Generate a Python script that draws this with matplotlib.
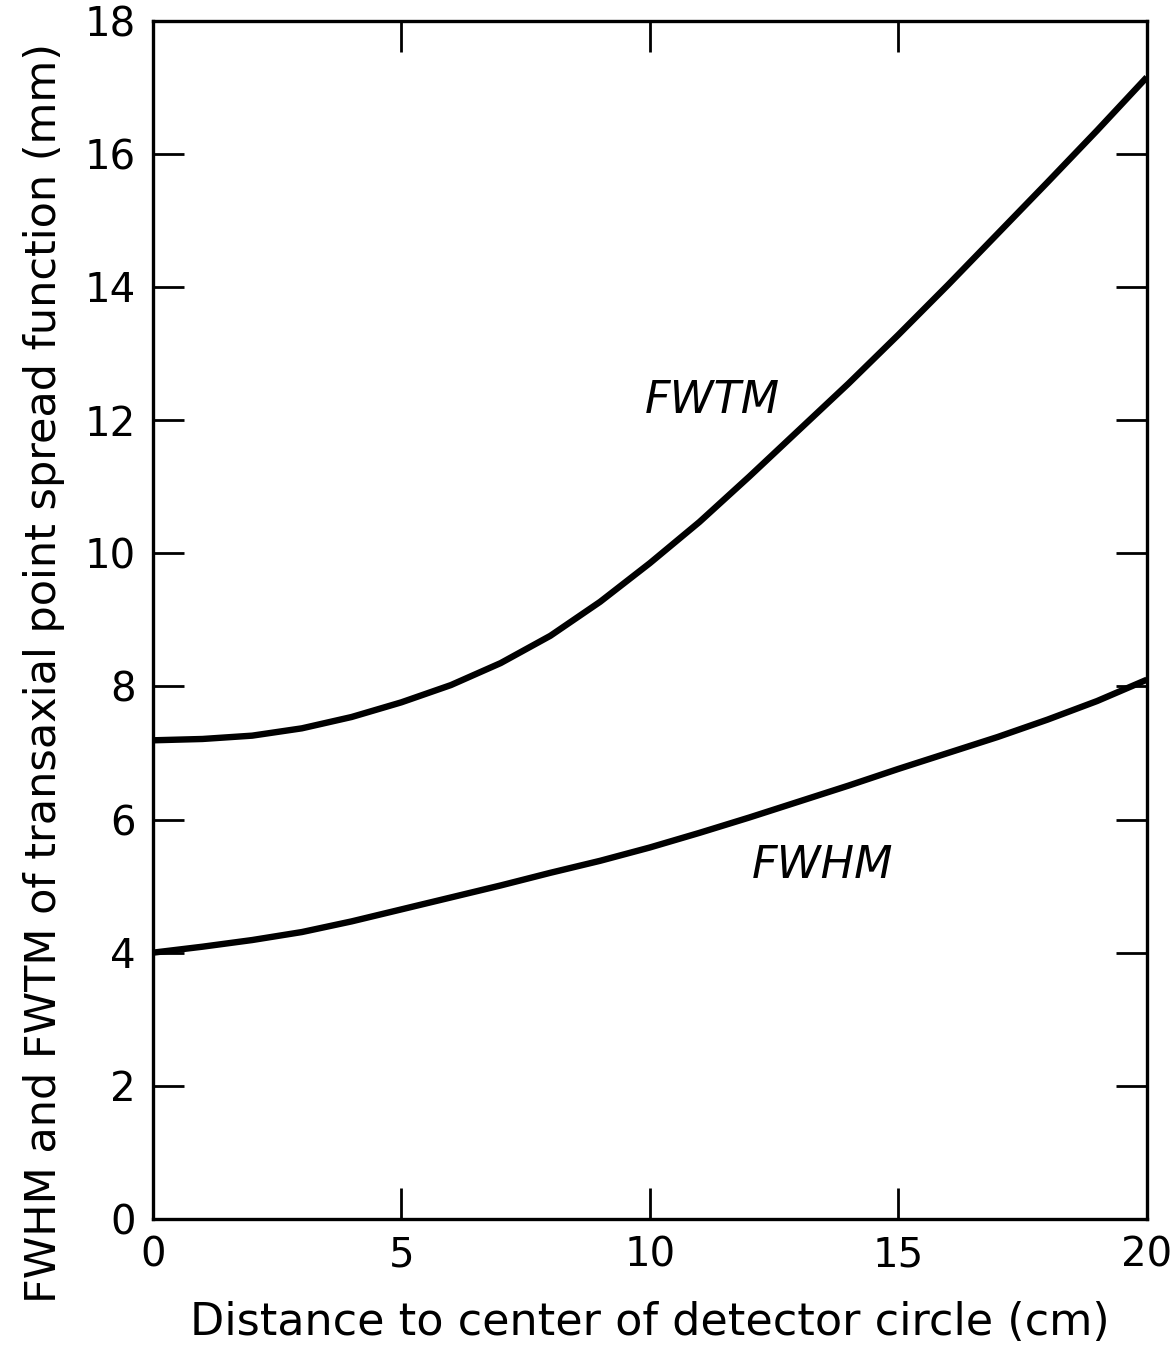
import matplotlib
matplotlib.use("Agg")
import matplotlib.pyplot as plt

# distance to center of detector circle (cm)
dist = [0, 1, 2, 3, 4, 5, 6, 7, 8, 9, 10, 11, 12, 13, 14, 15, 16, 17, 18, 19, 20]
# widths of the transaxial point spread function (mm)
fwtm = [7.19, 7.21, 7.26, 7.37, 7.54, 7.76, 8.02, 8.35, 8.76, 9.27, 9.85, 10.47,
        11.15, 11.85, 12.55, 13.28, 14.03, 14.8, 15.57, 16.35, 17.15]
fwhm = [4.0, 4.09, 4.19, 4.31, 4.47, 4.65, 4.83, 5.01, 5.2, 5.38, 5.58, 5.8,
        6.03, 6.27, 6.51, 6.76, 7.0, 7.24, 7.5, 7.78, 8.1]

plt.rcParams['font.family'] = ['DejaVu Sans']

fig = plt.figure(figsize=(11.75, 13.48), dpi=100)
ax = fig.add_axes([0.130, 0.0957, 0.846, 0.889])

ax.plot(dist, fwtm, 'k', lw=4.6, solid_joinstyle='round', solid_capstyle='butt')
ax.plot(dist, fwhm, 'k', lw=4.6, solid_joinstyle='round', solid_capstyle='butt')

ax.text(9.9, 12.1, 'FWTM', fontsize=32, style='italic')
ax.text(12.05, 5.12, 'FWHM', fontsize=32, style='italic')

ax.set_xlim(0, 20)
ax.set_ylim(0, 18)
ax.set_xticks([0, 5, 10, 15, 20])
ax.set_yticks(range(0, 19, 2))
ax.tick_params(direction='in', length=22, width=2, labelsize=29, pad=12,
               top=True, right=True)
for s in ax.spines.values():
    s.set_linewidth(2.4)

ax.set_xlabel('Distance to center of detector circle (cm)', fontsize=32, labelpad=18)
ax.set_ylabel('FWHM and FWTM of transaxial point spread function (mm)', fontsize=31)
ax.yaxis.set_label_coords(-0.088, 0.456)

fig.savefig('out.png', dpi=100)
